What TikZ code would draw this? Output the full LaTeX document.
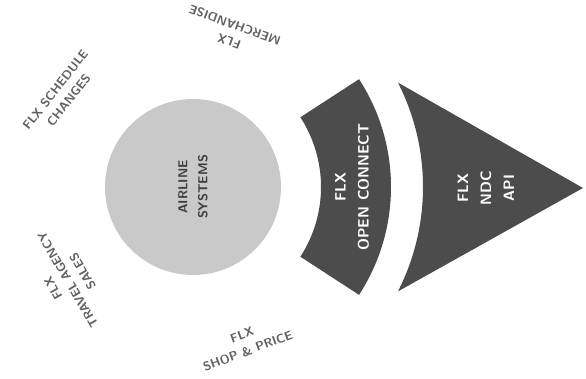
\documentclass[tikz,border=0pt]{standalone}
\usepackage{tikz}
\usetikzlibrary{positioning, calc}

\begin{document}
\begin{tikzpicture}[
            x=1pt, y=1pt,
            kreis/.style={
                    circle,
                    minimum size=176pt,
                    inner sep=0pt,
                    fill=gray!42,
                    text=black!75,
                    align=center,
                    rotate=90,
                    font=\sffamily\bfseries\fontsize{13}{20}\selectfont
                },
            feld/.style={
                    fill=black!70
                },
            innen/.style={
                    text=white,
                    align=center,
                    rotate=90,
                    font=\sffamily\bfseries\fontsize{15}{23}\selectfont
                },
            aussen/.style={
                    text=black!62,
                    align=center,
                    font=\sffamily\bfseries\fontsize{12.5}{17}\selectfont
                }
        ]
        \useasboundingbox (0,0) rectangle (586,378);

        \coordinate (mitte) at (193,191);
        \coordinate (spitze) at (583,190);

        % inner circle
        \node[kreis] (system) at (mitte) {AIRLINE\\SYSTEMS};

        % curved band and arrow head
        \fill[feld] ($(mitte)+(33:128)$) arc[start angle=33, end angle=-33, radius=128]
            -- ($(mitte)+(-33:198)$) arc[start angle=-33, end angle=33, radius=198] -- cycle;
        \fill[feld] ($(mitte)+(27:230)$) arc[start angle=27, end angle=-27, radius=230]
            -- (spitze) -- cycle;

        \node[innen] (connect) at ($(mitte)+(0:159)$) {FLX\\OPEN CONNECT};
        \node[innen] (ndc) at (486,190) {FLX\\NDC\\API};

        % labels round the circle
        \node[aussen, rotate=160] (merch) at (232,345) {FLX\\MERCHANDISE};
        \node[aussen, rotate=20] (shop) at (245,35) {FLX\\SHOP \& PRICE};
        \node[aussen, rotate=52] (schedule) at (62,283) {FLX SCHEDULE\\CHANGES};
        \node[aussen, rotate=120] (agency) at (68,98) {FLX\\TRAVEL AGENCY\\SALES};

    \end{tikzpicture}
\end{document}
